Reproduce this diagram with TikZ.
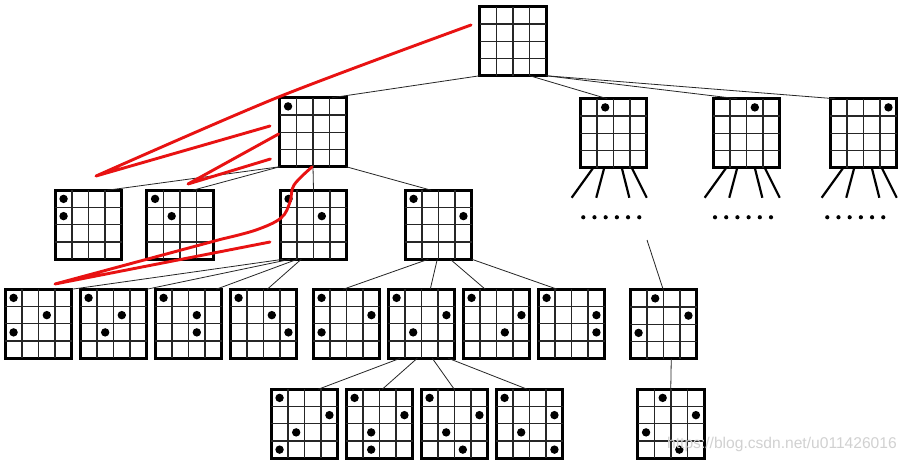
\documentclass[tikz,border=0pt]{standalone}
\usepackage{fontspec}
\setmainfont{Liberation Sans}
\usetikzlibrary{calc}
\definecolor{annot}{RGB}{232,18,18}
\tikzset{
  boardbox/.style={draw=black, line width=3.4pt, minimum width=66.5pt, minimum height=69pt, inner sep=0pt, outer sep=0pt},
  gridline/.style={draw=black!85, line width=1.3pt},
  queen/.style={fill=black},
  link/.style={draw=black!85, line width=0.8pt},
  leg/.style={draw=black, line width=2.2pt},
  redline/.style={draw=annot, line width=2.9pt, line cap=round, line join=round},
  wmark/.style={text=black!18, font=\fontsize{15.6}{16}\selectfont, inner sep=0pt, anchor=west},
}
\newcommand\qboard[3]{% name, left, top
  \node[boardbox] (#1) at (#2+35,#3+36.25) {};
  \foreach \k in {1,2,3}{
    \draw[gridline] ($(#1.north west)+(\k*16.625,0)$) -- ($(#1.south west)+(\k*16.625,0)$);
    \draw[gridline] ($(#1.north west)+(0,\k*17.25)$) -- ($(#1.north east)+(0,\k*17.25)$);
  }
}
\newcommand\queens[2]{% name, list r/c
  \foreach \r/\c in {#2}{
    \fill[queen] ($(#1.north west)+(\c*16.625+8.3125,\r*17.25+8.625)$) circle (4.2pt);
  }
}
\newcommand\moredots[2]{% name, x offset
  \foreach \i in {0,...,5}{
    \fill[queen] ($(#1.south west)+(#2+\i*11.2,49.5)$) circle (2.1pt);
  }
  \foreach \o/\d in {13/-21.6,24/-8,41.5/7.6,51.5/15}{
    \draw[leg] ($(#1.south west)+(\o,0)$) -- ++(\d,30);
  }
}
\begin{document}
\begin{tikzpicture}[x=1pt,y=-1pt]
\fill[white] (0,0) rectangle (909,466);
\useasboundingbox (0,0) rectangle (909,466);

% boards
\qboard{top}{478}{5}
\qboard{B1}{278}{96}\queens{B1}{0/0}
\qboard{A}{578.5}{97}\queens{A}{0/1}
\qboard{B}{711.5}{97}\queens{B}{0/2}
\qboard{C}{828.5}{97}\queens{C}{0/3}

\qboard{b1}{53.5}{188.5}\queens{b1}{0/0,1/0}
\qboard{b2}{145}{188.5}\queens{b2}{0/0,1/1}
\qboard{b3}{278.5}{188.5}\queens{b3}{0/0,1/2}
\qboard{b4}{403.5}{188.5}\queens{b4}{0/0,1/3}

\qboard{r4a}{3.5}{287.5}\queens{r4a}{0/0,1/2,2/0}
\qboard{r4b}{78.5}{287.5}\queens{r4b}{0/0,1/2,2/1}
\qboard{r4c}{153.5}{287.5}\queens{r4c}{0/0,1/2,2/2}
\qboard{r4d}{228.5}{287.5}\queens{r4d}{0/0,1/2,2/3}
\qboard{r4e}{311.5}{287.5}\queens{r4e}{0/0,1/3,2/0}
\qboard{r4f}{386.5}{287.5}\queens{r4f}{0/0,1/3,2/1}
\qboard{r4g}{461.5}{287.5}\queens{r4g}{0/0,1/3,2/2}
\qboard{r4h}{536.5}{287.5}\queens{r4h}{0/0,1/3,2/3}
\qboard{r4i}{628.5}{288}\queens{r4i}{0/1,1/3,2/0}

\qboard{r5a}{269.5}{387.5}\queens{r5a}{0/0,1/3,2/1,3/0}
\qboard{r5b}{344.5}{387.5}\queens{r5b}{0/0,1/3,2/1,3/1}
\qboard{r5c}{419.5}{387.5}\queens{r5c}{0/0,1/3,2/1,3/2}
\qboard{r5d}{494.5}{387.5}\queens{r5d}{0/0,1/3,2/1,3/3}
\qboard{r5e}{636}{387.5}\queens{r5e}{0/1,1/3,2/0,3/2}

% legs and ellipsis dots
\moredots{A}{3}
\moredots{B}{1.75}
\moredots{C}{-3}

% connectors
\draw[link] (top.south west) -- ($(B1.north west)+(52,0)$);
\draw[link] ($(top.south west)+(50,0)$) -- ($(A.north west)+(27,0)$);
\draw[link] (top.south east) -- ($(B.north west)+(24,0)$);
\draw[link] (top.south east) -- ($(C.north west)+(5,0)$);

\draw[link] (B1.south west) -- ($(b1.north west)+(52,0)$);
\draw[link] (B1.south west) -- ($(b2.north west)+(46,0)$);
\draw[link] (B1.south) -- (b3.north);
\draw[link] (B1.south east) -- ($(b4.north west)+(26,0)$);

\draw[link] ($(b3.south west)+(3,0)$) -- (r4a.north east);
\draw[link] ($(b3.south west)+(10,0)$) -- (r4b.north east);
\draw[link] ($(b3.south west)+(17,0)$) -- ($(r4c.north west)+(61,0)$);
\draw[link] ($(b3.south west)+(21,0)$) -- ($(r4d.north west)+(37,0)$);

\draw[link] ($(b4.south west)+(23,0)$) -- ($(r4e.north west)+(30,0)$);
\draw[link] ($(b4.south west)+(32,0)$) -- ($(r4f.north west)+(42,0)$);
\draw[link] ($(b4.south west)+(45,0)$) -- ($(r4g.north west)+(22,0)$);
\draw[link] (b4.south east) -- ($(r4h.north west)+(19,0)$);

\draw[link] ($(r4f.south west)+(12,0)$) -- ($(r5a.north west)+(47,0)$);
\draw[link] ($(r4f.south west)+(29,0)$) -- ($(r5b.north west)+(36,0)$);
\draw[link] ($(r4f.south west)+(44,0)$) -- ($(r5c.north west)+(33,0)$);
\draw[link] ($(r4f.south west)+(60,0)$) -- ($(r5d.north west)+(31,0)$);

\coordinate (aend) at (647,240);
\draw[link] (aend) -- ($(r4i.north west)+(33,0)$);
\draw[link] ($(r4i.south west)+(41,0)$) -- ($(r5e.north west)+(33,0)$);

% red annotation strokes
\draw[redline] plot[smooth, tension=0.5] coordinates {(471,25) (278.6,97) (96,176)} -- (270,126);
\draw[redline] (278.6,134) -- (188,184) -- (270.4,159);
\draw[redline] plot[smooth, tension=0.6] coordinates {(312,167) (294,185) (290,202) (281,218) (256,230) (222,239)} -- (55,284) -- (270,242);

% watermark
\node[wmark] (wm) at (667,444) {https://blog.csdn.net/u011426016};
\end{tikzpicture}
\end{document}
